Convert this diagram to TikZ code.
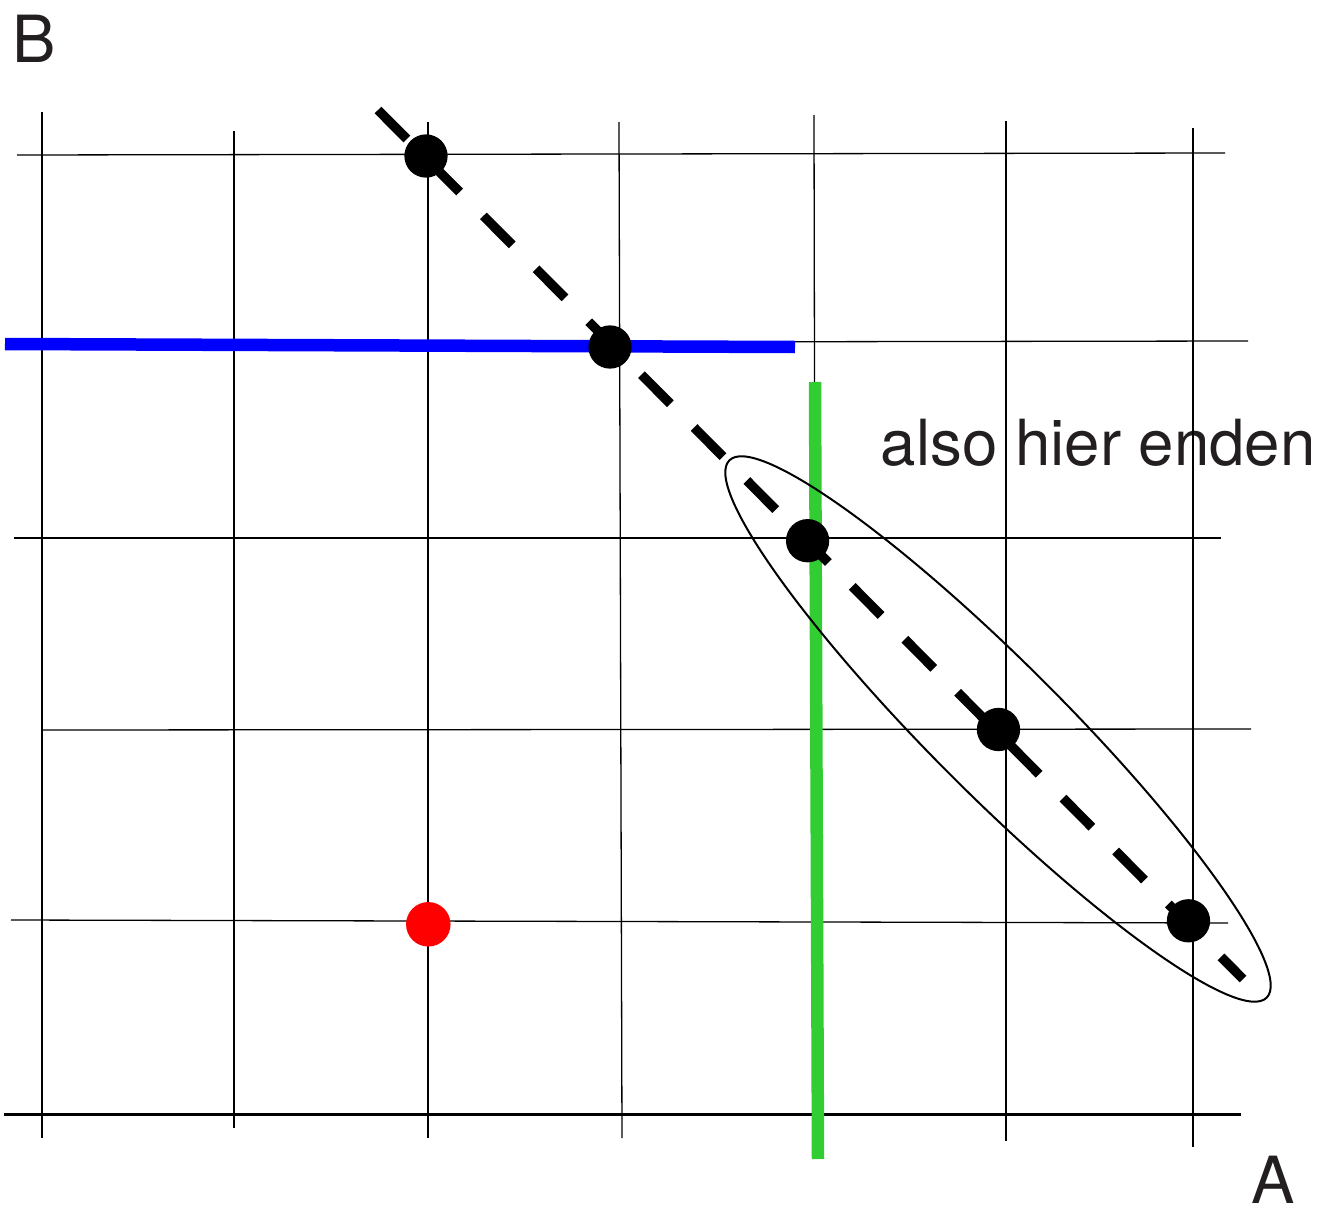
\documentclass[tikz,border=0pt]{standalone}
\usepackage{fontspec}
\setmainfont{TeX Gyre Heros}
\definecolor{grn}{RGB}{50,205,50}
\definecolor{txtgray}{RGB}{35,31,32}
\begin{document}
\begin{tikzpicture}[x=0.02cm,y=-0.02cm,
  gridline/.style={line width=0.026cm, black},
  axisline/.style={line width=0.06cm, black},
  bdot/.style={circle, fill=black, draw=none, inner sep=0pt, minimum size=0.866cm},
  rdot/.style={circle, fill=red, draw=none, inner sep=0pt, minimum size=0.89cm},
  biglbl/.style={inner sep=0pt, text=txtgray, font=\fontsize{37}{42}\selectfont, anchor=base west},
  txtlbl/.style={inner sep=0pt, text=txtgray, font=\fontsize{36.2}{40}\selectfont, anchor=base west}]
\useasboundingbox (0,0) rectangle (1320,1217);

% labels
\node[biglbl] (tB) at (12,62) {B};
\node[biglbl] (tA) at (1251,1203) {A};
\node[txtlbl] (tt) at (880.5,465) {also hier enden};

% grid
\draw[gridline] (17,155) -- (1225,153);
\draw[gridline] (8,343) -- (1248,341);
\draw[gridline] (14,538) -- (1221,538);
\draw[gridline] (42,730) -- (1251,729);
\draw[gridline] (11,920) -- (1228,923);
\draw[gridline] (234,131) -- (234,1128);
\draw[gridline] (428,122) -- (428,1138);
\draw[gridline] (619,122) -- (622,1138);
\draw[gridline] (814,115) -- (816,1140);
\draw[gridline] (1006,121) -- (1006,1141);
\draw[gridline] (1193,128) -- (1193,1147);
% axes
\draw[axisline] (42,112) -- (42,1138);
\draw[axisline] (4,1114) -- (1241,1114);

% blue and green lines
\coordinate (bl) at (5,344);
\coordinate (br) at (795,347);
\coordinate (gt) at (815,382);
\coordinate (gb) at (818,1159);
\draw[blue, line width=0.25cm] (bl) -- (br);
\draw[grn, line width=0.25cm] (gt) -- (gb);

% dashed diagonal
\coordinate (ds) at (378,110);
\coordinate (de) at (1243,979);
\draw[black, line width=0.19cm, dash pattern=on 0.82cm off 0.674cm] (ds) -- (de);

% ellipse
\draw[black, line width=0.04cm, rotate around={-45:(998,729)}] (998,729) ellipse [x radius=7.6cm, y radius=1.32cm];

% dots
\node[bdot] (p1) at (426,156) {};
\node[bdot] (p2) at (610,347) {};
\node[bdot] (p3) at (807.6,540.7) {};
\node[bdot] (p4) at (998.5,729.5) {};
\node[bdot] (p5) at (1188.5,920.8) {};
\node[rdot] (r1) at (428.3,924.3) {};
\end{tikzpicture}
\end{document}
